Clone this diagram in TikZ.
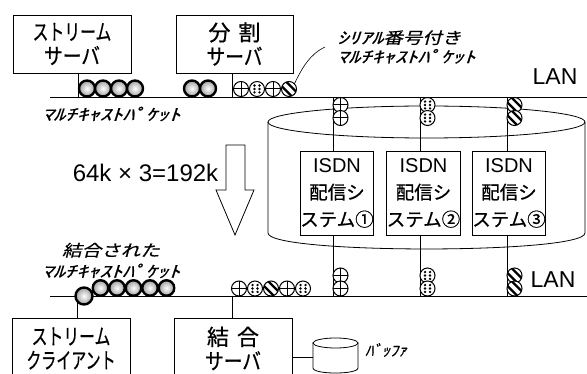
\documentclass[tikz,border=0pt]{standalone}
\usepackage{fontspec}
\newfontfamily\jp[FakeBold=0.7]{Noto Sans CJK JP}
\newfontfamily\jpit[FakeSlant=0.22,FakeBold=0.5]{Noto Sans CJK JP}
\newfontfamily\lat{Liberation Sans}
\newcommand\hwk[1]{\scalebox{1.44}[1]{#1}}
\newcommand\fwk[1]{\scalebox{1.22}[1]{#1}}
\newcommand\nrw[2][0.72]{\scalebox{#1}[1]{#2}}
\begin{document}
\begin{tikzpicture}[x=1pt,y=-1pt,
  line/.style={line width=0.8pt},
  box/.style={draw, line width=0.8pt, inner sep=0pt, align=center, font=\jp\fontsize{22}{24}\selectfont},
  isdn/.style={draw, line width=0.8pt, inner sep=0pt, align=center, minimum height=84, font=\jp\fontsize{18.5}{27}\selectfont},
  lbl/.style={inner sep=0pt, font=\jpit\fontsize{16}{19}\selectfont},
  lantext/.style={inner sep=0pt, font=\lat\fontsize{23}{26}\selectfont},
  pk/.style={circle, inner sep=0pt, minimum size=15, line width=1pt, draw, fill=white},
  pS/.style={pk, minimum size=16, line width=2.4pt, shading=radial, inner color=white, outer color=gray!75},
  pC/.style={pk, path picture={\draw[line width=1pt] (path picture bounding box.north) -- (path picture bounding box.south) (path picture bounding box.west) -- (path picture bounding box.east);}},
  pD/.style={pk, path picture={\foreach \da/\db in {-2.5/-3.4, 2.5/-3.4, -2.5/0, 2.5/0, -2.5/3.4, 2.5/3.4} \fill[black] ([shift={(\da,\db)}]path picture bounding box.center) circle (1.35);}},
  pH/.style={pk, path picture={\foreach \o in {-3.2,3.2} \draw[black, line width=2.2pt] ([shift={({\o*0.707-9},{-\o*0.707-9})}]path picture bounding box.center) -- ([shift={({\o*0.707+9},{-\o*0.707+9})}]path picture bounding box.center);}}
]
\clip (0,0) rectangle (587,374);
\fill[white] (0,0) rectangle (587,374);

% LAN lines
\coordinate (lanTL) at (50,97); \coordinate (lanTR) at (587,97);
\coordinate (lanBL) at (50,296); \coordinate (lanBR) at (587,296);
\draw[line] (lanTL) -- (lanTR);
\draw[line] (lanBL) -- (lanBR);

% big cylinder
\draw[line] (268,122) -- (268,233) .. controls (268,254.3) and (585,254.3) .. (585,233) -- (585,122);
\draw[line] (426.5,122) ellipse [x radius=158.5, y radius=16];

% boxes
\node[box, minimum width=118, minimum height=58] (ss) at (72,44) {\nrw{ストリーム}\\\nrw[0.85]{サーバ}};
\node[box, minimum width=117, minimum height=58] (ds) at (234.5,44) {分\hspace{8pt}割\\\nrw[0.85]{サーバ}};
\node[isdn, minimum width=72] (i1) at (337,193) {{\lat\fontsize{20}{27}\selectfont ISDN}\\配信シ\\ステム①};
\node[isdn, minimum width=71] (i2) at (423.5,193) {{\lat\fontsize{20}{27}\selectfont ISDN}\\配信シ\\ステム②};
\node[isdn, minimum width=72] (i3) at (509,193) {{\lat\fontsize{20}{27}\selectfont ISDN}\\配信シ\\ステム③};
\node[box, minimum width=118, minimum height=61] (sc) at (71,348.5) {\nrw{ストリーム}\\\nrw[0.68]{クライアント}};
\node[box, minimum width=118, minimum height=61] (cs) at (233,348.5) {結\hspace{8pt}合\\\nrw[0.85]{サーバ}};

% vertical connectors
\coordinate (t1) at (78,97);  \draw[line] (t1 |- ss.south) -- (t1);
\coordinate (t2) at (232,97); \draw[line] (t2 |- ds.south) -- (t2);
\coordinate (b1) at (77,296);  \draw[line] (b1) -- (b1 |- sc.north);
\coordinate (b2) at (232,296); \draw[line] (b2) -- (b2 |- cs.north);
\coordinate (t3) at (333,97);  \coordinate (b3) at (333,296);
\coordinate (t4) at (420,97);  \coordinate (b4) at (420,296);
\coordinate (t5) at (507,97);  \coordinate (b5) at (507,296);
\draw[line] (t3) -- (t3 |- i1.north); \draw[line] (b3 |- i1.south) -- (b3);
\draw[line] (t4) -- (t4 |- i2.north); \draw[line] (b4 |- i2.south) -- (b4);
\draw[line] (t5) -- (t5 |- i3.north); \draw[line] (b5 |- i3.south) -- (b5);

% buffer
\draw[line] (313,343) -- (313,368) .. controls (313,374.7) and (358,374.7) .. (358,368) -- (358,343);
\draw[line] (335.5,343) ellipse [x radius=22.5, y radius=5];
\coordinate (bufW) at (313,357);
\draw[line] (bufW -| cs.east) -- (bufW);
\node[inner sep=0pt, font=\jpit\fontsize{15}{16}\selectfont] (bl) at (386,350) {\scalebox{1.1}[1]{ﾊﾞｯﾌｧ}};

% big arrow
\draw[line] (226,145) -- (245,145) -- (245,190) -- (254,190) -- (235,235) -- (216,190) -- (226,190) -- cycle;
\node[inner sep=0pt, font=\lat\fontsize{24}{26}\selectfont] (calc) at (145.5,173) {64k × 3=192k};

% packets: top LAN
\foreach \x [count=\i] in {87,103,119,135,192,208} \node[pS] (ts\i) at (\x,88.5) {};
\node[pC] (tp1) at (241,89) {};
\node[pD] (tp2) at (257,89) {};
\node[pC] (tp3) at (273,89) {};
\node[pH] (tp4) at (289,89) {};

% packets: vertical pairs
\node[pC] (u1a) at (340.5,105) {}; \node[pC] (u1b) at (340.5,118) {};
\node[pD] (u2a) at (427.5,105) {}; \node[pD] (u2b) at (427.5,118) {};
\node[pH] (u3a) at (514.5,105) {}; \node[pH] (u3b) at (514.5,118) {};
\node[pC] (d1a) at (340.5,275.5) {}; \node[pC] (d1b) at (340.5,288.5) {};
\node[pD] (d2a) at (427.5,275.5) {}; \node[pD] (d2b) at (427.5,288.5) {};
\node[pH] (d3a) at (514.5,275.5) {}; \node[pH] (d3b) at (514.5,288.5) {};

% packets: bottom LAN
\node[pS, minimum size=17] (bs0) at (84,296) {};
\foreach \x [count=\i] in {100.5,117,133.5,150,166.5} \node[pS, minimum size=15.5] (bs\i) at (\x,288) {};
\node[pC] (bp1) at (239,288.5) {};
\node[pD] (bp2) at (255,288.5) {};
\node[pH] (bp3) at (271,288.5) {};
\node[pC] (bp4) at (287,288.5) {};
\node[pD] (bp5) at (303,288.5) {};

% labels
\node[lbl, anchor=west, align=left] (sl) at (337,47) {\hwk{ｼﾘｱﾙ}\fwk{番号付き}\\\hwk{ﾏﾙﾁｷｬｽﾄﾊﾟｹｯﾄ}};
\coordinate (co) at (325,47);
\draw[line, line width=0.6pt] (tp4.north east) .. controls (302,68) and (310,54) .. (co);
\node[lbl, anchor=west] (ml) at (42,114) {\hwk{ﾏﾙﾁｷｬｽﾄﾊﾟｹｯﾄ}};
\node[lbl, align=center, font=\jpit\fontsize{16}{21}\selectfont] (jl) at (111,260.5) {\fwk{結合された}\\\hwk{ﾏﾙﾁｷｬｽﾄﾊﾟｹｯﾄ}};
\node[lantext] (lanT) at (555,77) {LAN};
\node[lantext] (lanB) at (553,280) {LAN};
\end{tikzpicture}
\end{document}
